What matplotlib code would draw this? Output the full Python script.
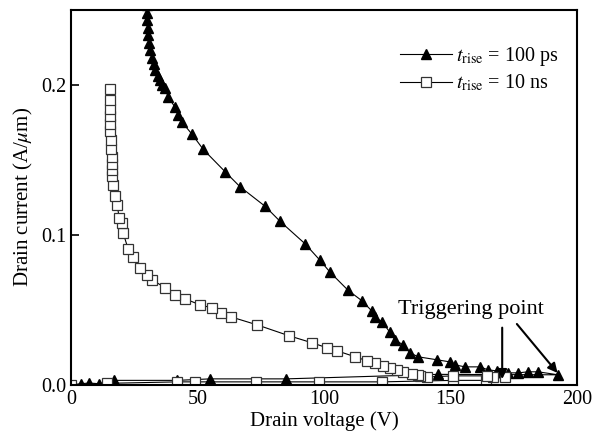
import matplotlib.pyplot as plt

plt.rcParams["font.family"] = ["Liberation Serif", "DejaVu Serif"]
plt.rcParams["mathtext.fontset"] = "stix"

# t_rise = 100 ps : low-current branch (0 -> trigger) then snapback branch
v_fast = [0, 4, 7, 11, 17, 42, 55, 85, 145, 192.5,
          184.6, 180.6, 176.7, 172.7, 168.4, 164.8, 161.7, 155.7, 151.8, 149.8,
          144.7, 137.2, 134, 131.2, 128, 126, 123, 120, 119, 115,
          109.5, 102.4, 98.4, 92.5, 82.6, 76.7, 66.8, 60.9, 52.2, 47.8,
          43.9, 42.3, 41.1, 38.3, 37.2, 36.0, 35.0, 34.2, 33.2, 32.6,
          32.0, 31.2, 30.8, 30.5, 30.3, 30.1, 30.0, 30.0]
i_fast = [0.0, 0.0008, 0.0012, 0.0008, 0.003, 0.003, 0.004, 0.004, 0.007, 0.0067,
          0.0087, 0.0087, 0.008, 0.008, 0.0093, 0.010, 0.012, 0.012, 0.0133, 0.0153,
          0.0167, 0.0187, 0.0213, 0.0267, 0.030, 0.035, 0.042, 0.045, 0.049, 0.056,
          0.063, 0.075, 0.083, 0.094, 0.109, 0.119, 0.132, 0.142, 0.157, 0.167,
          0.175, 0.180, 0.185, 0.192, 0.198, 0.200, 0.203, 0.206, 0.210, 0.214,
          0.218, 0.223, 0.228, 0.233, 0.238, 0.243, 0.248, 0.253]

# t_rise = 10 ns
v_slow = [0, 14, 42, 49, 73, 98, 123, 151, 164, 171.5,
          166.8, 164.4, 151, 140.7, 138, 137.2, 134.8, 131.2, 128.9, 126.1,
          123.3, 120.2, 117, 112.3, 105.1, 101.2, 95.3, 86.2, 73.5, 63.2,
          59.3, 55.7, 51, 45.1, 41.1, 37.2, 32, 30, 27.3, 24.5,
          22.5, 20.6, 20.2, 19, 18.2, 17.4, 16.6, 16.2, 16.2, 16.2,
          16.0, 15.8, 15.6, 15.4, 15.4, 15.4, 15.4, 15.4, 15.4]
i_slow = [0.0, 0.001, 0.002, 0.002, 0.002, 0.002, 0.002, 0.003, 0.003, 0.0053,
          0.0053, 0.006, 0.006, 0.0053, 0.006, 0.0067, 0.0073, 0.0087, 0.010, 0.0113,
          0.0127, 0.0147, 0.016, 0.0187, 0.0227, 0.0247, 0.028, 0.0327, 0.040, 0.0453,
          0.048, 0.0513, 0.0533, 0.0573, 0.060, 0.0647, 0.070, 0.0733, 0.078, 0.0853,
          0.0907, 0.101, 0.108, 0.111, 0.120, 0.126, 0.133, 0.139, 0.143, 0.147,
          0.152, 0.157, 0.163, 0.169, 0.174, 0.179, 0.184, 0.190, 0.197]

fig = plt.figure(figsize=(5.98, 4.47), dpi=100)
ax = fig.add_axes([0.119, 0.139, 0.846, 0.839])

ax.plot(v_fast, i_fast, color="black", lw=0.8, marker="^", ms=6.5,
        mfc="black", mec="black", label=r"$t_{\rm rise}$ = 100 ps")
ax.plot(v_slow, i_slow, color="black", lw=0.8, marker="s", ms=7,
        mfc="white", mec="#333333", mew=0.9, label=r"$t_{\rm rise}$ = 10 ns")

ax.set_xlim(0, 200)
ax.set_ylim(0, 0.25)
ax.set_xticks([0, 50, 100, 150, 200])
ax.set_yticks([0.0, 0.1, 0.2])
ax.set_yticklabels(["0.0", "0.1", "0.2"])
ax.tick_params(direction="in", length=6, width=1.2, labelsize=14.5)
for s in ax.spines.values():
    s.set_linewidth(1.5)

ax.set_xlabel("Drain voltage (V)", fontsize=15, labelpad=2)
ax.set_ylabel(r"Drain current (A/$\mu$m)", fontsize=15, labelpad=4)

ax.legend(loc="upper right", bbox_to_anchor=(1.0, 0.955), frameon=False,
          fontsize=14.5, handlelength=2.6, labelspacing=0.25, handletextpad=0.2)

ax.text(158, 0.047, "Triggering point", fontsize=16, ha="center", va="baseline")
arr = dict(arrowstyle="-|>", color="black", lw=1.5, mutation_scale=14)
ax.annotate("", xy=(170.4, 0.002), xytext=(170.4, 0.040), arrowprops=arr)
ax.annotate("", xy=(193, 0.0065), xytext=(175.5, 0.042), arrowprops=arr)

fig.savefig("out.png", dpi=100)
